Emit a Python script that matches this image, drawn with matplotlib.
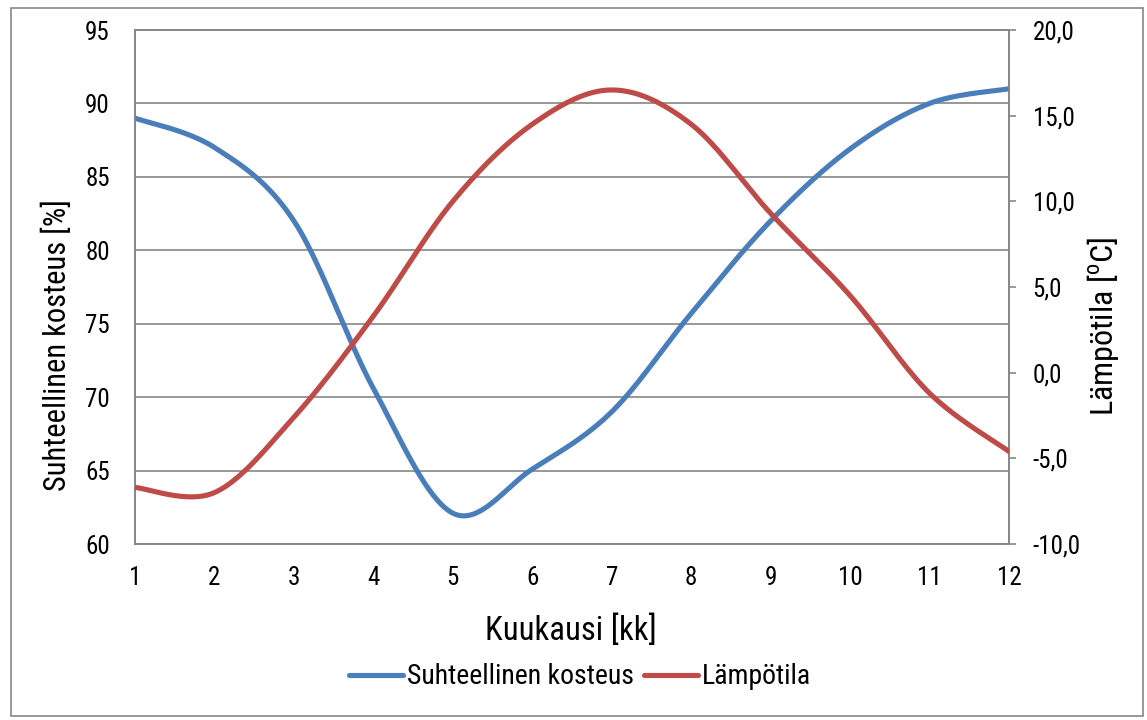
import numpy as np
import matplotlib
matplotlib.use("Agg")
import matplotlib.pyplot as plt
from matplotlib import font_manager
from matplotlib.lines import Line2D
from matplotlib.patches import Rectangle
from matplotlib.ticker import FuncFormatter

# ---- data ----
months = [1, 2, 3, 4, 5, 6, 7, 8, 9, 10, 11, 12]
humidity = [89.0, 87.0, 82.0, 70.6, 62.1, 65.1, 69.0, 75.7, 82.0, 86.9, 90.0, 91.0]
temperature = [-6.7, -7.0, -2.6, 3.3, 10.0, 14.5, 16.5, 14.5, 9.3, 4.5, -1.2, -4.6]
hum_label = "Suhteellinen kosteus"
temp_label = "Lämpötila"
x_title = "Kuukausi [kk]"
y_left_title = "Suhteellinen kosteus [%]"
y_right_title = "Lämpötila [$^{\\mathrm{o}}$C]"
left_ticks = [60, 65, 70, 75, 80, 85, 90, 95]
right_ticks = [-10, -5, 0, 5, 10, 15, 20]

# ---- font ----
avail = {f.name for f in font_manager.fontManager.ttflist}
fam = "Lato"
for cand in ["Roboto Condensed", "Liberation Sans Narrow", "Open Sans Condensed", "Lato"]:
    if cand in avail:
        fam = cand
        break
plt.rcParams["font.family"] = [fam, "DejaVu Sans"]
plt.rcParams["mathtext.fontset"] = "custom"
plt.rcParams["mathtext.rm"] = fam

BLUE = "#4A7EBB"
RED = "#BE4B48"
GRID = "#868686"


def excel_smooth(xs, ys, n=40):
    """Excel-style smoothed line (Catmull-Rom Bezier) through the data points."""
    P = np.column_stack([xs, ys]).astype(float)
    m = len(P)
    out = []
    for i in range(m - 1):
        p0 = P[max(i - 1, 0)]
        p1 = P[i]
        p2 = P[i + 1]
        p3 = P[min(i + 2, m - 1)]
        c1 = p1 + (p2 - p0) / 6.0
        c2 = p2 - (p3 - p1) / 6.0
        t = np.linspace(0, 1, n)[:, None]
        seg = ((1 - t) ** 3) * p1 + 3 * ((1 - t) ** 2) * t * c1 + 3 * (1 - t) * t ** 2 * c2 + t ** 3 * p2
        out.append(seg if i == 0 else seg[1:])
    out = np.vstack(out)
    return out[:, 0], out[:, 1]


W, H = 1147, 720
fig = plt.figure(figsize=(W / 100, H / 100), dpi=100)
fig.patch.set_facecolor("white")
fig.patches.append(Rectangle((10.5 / W, 4.5 / H), 1132 / W, 708 / H, transform=fig.transFigure,
                             fill=False, edgecolor=GRID, linewidth=1.2))

ax = fig.add_axes([135 / W, 1 - 544 / H, (1009 - 135) / W, (544 - 30) / H])
ax2 = ax.twinx()

hx, hy = excel_smooth(months, humidity)
tx, ty = excel_smooth(months, temperature)
ax.plot(hx, hy, color=BLUE, lw=3.7, solid_capstyle="round", zorder=3)
ax2.plot(tx, ty, color=RED, lw=3.7, solid_capstyle="round", zorder=3)

ax.set_xlim(1, 12)
ax.set_ylim(60, 95)
ax2.set_ylim(-10, 20)
ax.set_xticks(months)
ax.set_yticks(left_ticks)
ax2.set_yticks(right_ticks)
ax2.yaxis.set_major_formatter(FuncFormatter(lambda v, p: f"{v:.1f}".replace(".", ",")))

ax.grid(axis="y", color=GRID, lw=1.2)
ax.set_axisbelow(True)
for a in (ax, ax2):
    for s in a.spines.values():
        s.set_color(GRID)
        s.set_linewidth(1.2)
ax.tick_params(axis="x", length=0, pad=16, labelsize=18)
ax.tick_params(axis="y", length=0, pad=18, labelsize=18)
ax2.tick_params(axis="y", length=5, width=1.2, color=GRID, pad=12, labelsize=18)

fig.text(57 / W, 1 - 345 / H, y_left_title, rotation=90, ha="center", va="center", fontsize=22)
fig.text(1103 / W, 1 - 326 / H, y_right_title, rotation=90, ha="center", va="center", fontsize=23)
fig.text(571 / W, 1 - 631 / H, x_title, ha="center", va="center", fontsize=23.5)

handles = [Line2D([], [], color=BLUE, lw=3.7, solid_capstyle="round"),
           Line2D([], [], color=RED, lw=3.7, solid_capstyle="round")]
fig.legend(handles, [hum_label, temp_label], loc="center", bbox_to_anchor=(580 / W, 1 - 677 / H),
           ncol=2, frameon=False, fontsize=20, handlelength=1.95, handletextpad=0.15,
           columnspacing=0.36, borderpad=0, borderaxespad=0)

fig.savefig("out.png", dpi=100, facecolor="white")
